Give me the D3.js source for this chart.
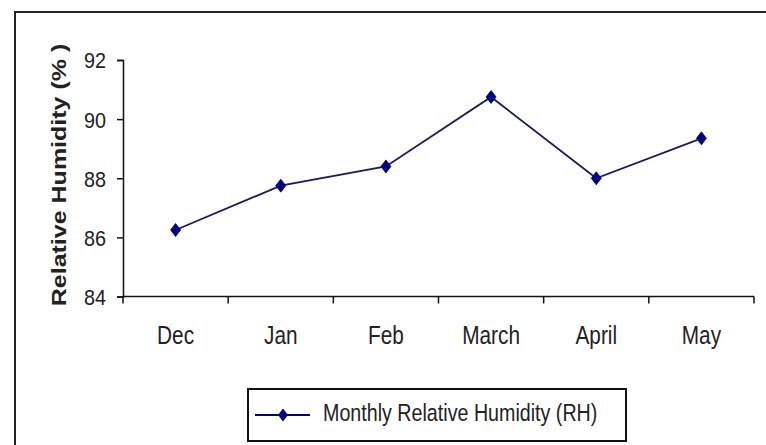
<!DOCTYPE html>
<html>
<head>
<meta charset="utf-8">
<script src="https://cdn.jsdelivr.net/npm/d3@7"></script>
<style>
  html, body { margin: 0; padding: 0; background: #fff; }
  svg { display: block; }
  text { font-family: "Liberation Sans", Arial, sans-serif; fill: #222; }
</style>
</head>
<body>
<svg id="chart" width="766" height="445"></svg>
<script>
// Monthly relative humidity, December to May
const months = ["Dec", "Jan", "Feb", "March", "April", "May"];
const humidity = [86.25, 87.75, 88.4, 90.75, 88.0, 89.35];
const yTicks = [84, 86, 88, 90, 92];
const seriesName = "Monthly Relative Humidity (RH)";
const yTitle = "Relative Humidity (% )";

const svg = d3.select("#chart");
const W = 766, H = 445;
const squish = 0.82;           // narrow letterforms used throughout the chart
const lineColor = "#1a1a5c";
const markerColor = "#000080";

// outer chart frame (runs past the right and bottom edges)
svg.append("path")
  .attr("d", `M15,${H + 5} L15,12 L${W + 5},12`)
  .attr("fill", "none")
  .attr("stroke", "#222")
  .attr("stroke-width", 2);

const plot = { left: 123, right: 754, top: 60, bottom: 296.5 };

const x = d3.scaleBand().domain(months).range([plot.left, plot.right]).padding(0);
const y = d3.scaleLinear().domain([84, 92]).range([plot.bottom, plot.top]);

// y axis
const yAxis = svg.append("g")
  .attr("transform", `translate(${plot.left},0)`)
  .call(d3.axisLeft(y).tickValues(yTicks).tickSize(6).tickPadding(10).tickFormat(d3.format("d")));
yAxis.select(".domain").attr("stroke", "#111").attr("stroke-width", 1.5);
yAxis.selectAll(".tick line").attr("stroke", "#111").attr("stroke-width", 1.5);
yAxis.selectAll(".tick text")
  .attr("font-size", 22)
  .attr("fill", "#2a2a2a")
  .attr("x", null)
  .attr("dy", "0.36em")
  .attr("transform", "translate(-17,0) scale(0.9,1)");

// x axis: category labels at band centres, tick marks on band boundaries
const xAxis = svg.append("g")
  .attr("transform", `translate(0,${plot.bottom})`)
  .call(d3.axisBottom(x).tickSize(0).tickPadding(0));
xAxis.select(".domain").remove();
xAxis.selectAll(".tick text")
  .attr("font-size", 26)
  .attr("fill", "#2a2a2a")
  .attr("y", null)
  .attr("dy", null)
  .attr("transform", "translate(0,47.5) scale(0.8,1)");

svg.append("line")
  .attr("x1", plot.left).attr("x2", plot.right)
  .attr("y1", plot.bottom).attr("y2", plot.bottom)
  .attr("stroke", "#111").attr("stroke-width", 1.5);

const boundaries = months.map(m => x(m)).concat([x(months[months.length - 1]) + x.bandwidth()]);
svg.append("g").selectAll("line")
  .data(boundaries)
  .join("line")
  .attr("x1", d => d).attr("x2", d => d)
  .attr("y1", plot.bottom).attr("y2", plot.bottom + 7)
  .attr("stroke", "#111").attr("stroke-width", 1.5);

// y axis title
svg.append("text")
  .attr("transform", `translate(66,175) scale(${squish},1) rotate(-90)`)
  .attr("text-anchor", "middle")
  .attr("font-size", 25)
  .attr("font-weight", "bold")
  .attr("fill", "#111")
  .text(yTitle);

// series line and diamond markers
const cx = (d, i) => x(months[i]) + x.bandwidth() / 2;
const line = d3.line().x(cx).y(d => y(d));
svg.append("path")
  .datum(humidity)
  .attr("d", line)
  .attr("fill", "none")
  .attr("stroke", lineColor)
  .attr("stroke-width", 1.8);

const diamond = "M0,-6.5 L5,0 L0,6.5 L-5,0 Z";
svg.append("g").selectAll("path")
  .data(humidity)
  .join("path")
  .attr("d", diamond)
  .attr("transform", (d, i) => `translate(${cx(d, i)},${y(d)})`)
  .attr("fill", markerColor)
  .attr("stroke", markerColor)
  .attr("stroke-width", 0.8);

// legend
const legend = svg.append("g");
legend.append("rect")
  .attr("x", 248).attr("y", 389)
  .attr("width", 378).attr("height", 52)
  .attr("fill", "#fff")
  .attr("stroke", "#111")
  .attr("stroke-width", 2);
legend.append("line")
  .attr("x1", 255).attr("x2", 310)
  .attr("y1", 415).attr("y2", 415)
  .attr("stroke", markerColor).attr("stroke-width", 1.8);
legend.append("path")
  .attr("d", diamond)
  .attr("transform", "translate(283,415)")
  .attr("fill", markerColor);
legend.append("text")
  .attr("transform", `translate(323,421) scale(${squish},1)`)
  .attr("font-size", 24)
  .attr("fill", "#2a2a2a")
  .text(seriesName);
</script>
</body>
</html>
